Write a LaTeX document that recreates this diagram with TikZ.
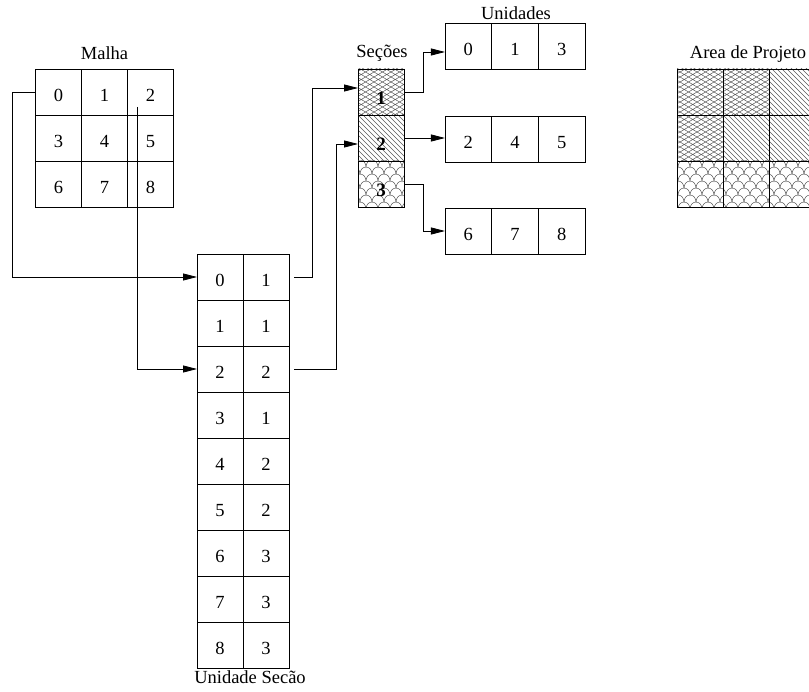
\documentclass[tikz,border=0pt]{standalone}
\usepackage{fontspec}
\setmainfont{Liberation Serif}
\usepackage{tikz}
\usetikzlibrary{
  arrows.meta,
  calc,
  patterns
}
% diamond mesh fill
\pgfdeclarepatternformonly{mesh}{\pgfqpoint{-0.5pt}{-0.5pt}}{\pgfqpoint{9pt}{5.5pt}}{\pgfqpoint{8.5pt}{5pt}}{%
  \pgfsetlinewidth{0.5pt}%
  \pgfpathmoveto{\pgfqpoint{0pt}{0pt}}\pgfpathlineto{\pgfqpoint{8.5pt}{5pt}}%
  \pgfpathmoveto{\pgfqpoint{0pt}{5pt}}\pgfpathlineto{\pgfqpoint{8.5pt}{0pt}}%
  \pgfusepath{stroke}}
% hatch fill
\pgfdeclarepatternformonly{hatch}{\pgfqpoint{-0.5pt}{-0.5pt}}{\pgfqpoint{5.5pt}{5.5pt}}{\pgfqpoint{5pt}{5pt}}{%
  \pgfsetlinewidth{0.5pt}%
  \pgfpathmoveto{\pgfqpoint{0pt}{5pt}}\pgfpathlineto{\pgfqpoint{5pt}{0pt}}%
  \pgfusepath{stroke}}
% fish scales fill
\pgfdeclarepatternformonly{scales}{\pgfqpoint{-0.5pt}{-0.5pt}}{\pgfqpoint{12.5pt}{14.5pt}}{\pgfqpoint{12pt}{14pt}}{%
  \pgfsetlinewidth{0.5pt}%
  \pgfpathmoveto{\pgfqpoint{0pt}{0pt}}%
  \pgfpathcurveto{\pgfqpoint{0pt}{3.86pt}}{\pgfqpoint{2.69pt}{7pt}}{\pgfqpoint{6pt}{7pt}}%
  \pgfpathcurveto{\pgfqpoint{9.31pt}{7pt}}{\pgfqpoint{12pt}{3.86pt}}{\pgfqpoint{12pt}{0pt}}%
  \pgfpathmoveto{\pgfqpoint{-6pt}{7pt}}%
  \pgfpathcurveto{\pgfqpoint{-6pt}{10.86pt}}{\pgfqpoint{-3.31pt}{14pt}}{\pgfqpoint{0pt}{14pt}}%
  \pgfpathcurveto{\pgfqpoint{3.31pt}{14pt}}{\pgfqpoint{6pt}{10.86pt}}{\pgfqpoint{6pt}{7pt}}%
  \pgfpathcurveto{\pgfqpoint{6pt}{10.86pt}}{\pgfqpoint{8.69pt}{14pt}}{\pgfqpoint{12pt}{14pt}}%
  \pgfpathcurveto{\pgfqpoint{15.31pt}{14pt}}{\pgfqpoint{18pt}{10.86pt}}{\pgfqpoint{18pt}{7pt}}%
  \pgfusepath{stroke}}
\tikzset{
  cell/.style = {
    draw, line width=0.8pt,
    minimum width=46pt, minimum height=46pt,
    inner sep=0pt, outer sep=0pt, text height=19.5pt,
    font=\fontsize{18.5}{22}\selectfont
  },
  ucell/.style = {cell, minimum width=46.67pt},
  seccell/.style = {cell, text height=26pt,
    font=\fontsize{19}{22}\selectfont\bfseries},
  fillpat/.style = {pattern=#1, pattern color=black!65},
  ttl/.style = {anchor=base, font=\fontsize{18.5}{22}\selectfont},
  arr/.style = {-{Triangle[length=14pt,width=7pt]}, line width=0.8pt},
}

\begin{document}
\begin{tikzpicture}[x=1pt, y=-1pt]
  \useasboundingbox (0,0) rectangle (809,692);

  %% Malha
  \foreach \n in {0,...,8}{
    \pgfmathtruncatemacro\c{mod(\n,3)}
    \pgfmathtruncatemacro\r{div(\n,3)}
    \node[cell] (m\n) at (58.5+46*\c, 92+46*\r) {\n};
  }
  \node[ttl] (malha) at (104.5,60) {Malha};

  %% Unidade / Secao table
  \foreach \u/\s [count=\k from 0] in {0/1,1/1,2/2,3/1,4/2,5/2,6/3,7/3,8/3}{
    \node[cell] (u\u0) at (220, 277+46*\k) {\u};
    \node[cell] (u\u1) at (266, 277+46*\k) {\s};
  }
  \node[ttl] (usec) at (250,683) {Unidade Secão};

  %% Secoes
  \node[seccell, fillpat=mesh]   (s1) at (381,92)  {1};
  \node[seccell, fillpat=hatch]  (s2) at (381,138) {2};
  \node[seccell, fillpat=scales] (s3) at (381,184) {3};
  \node[ttl] (secoes) at (382,58) {Seções};

  %% Unidades
  \foreach \y/\a/\b/\c [count=\k from 1] in {46/0/1/3, 139/2/4/5, 231/6/7/8}{
    \node[ucell] (b\k0) at (468.3,\y) {\a};
    \node[ucell] (b\k1) at (515,\y)   {\b};
    \node[ucell] (b\k2) at (561.7,\y) {\c};
  }
  \node[ttl] (unid) at (516,20) {Unidades};

  %% Area de Projeto
  \foreach \p [count=\k from 0] in {mesh,mesh,hatch,mesh,hatch,hatch,scales,scales,scales}{
    \pgfmathtruncatemacro\c{mod(\k,3)}
    \pgfmathtruncatemacro\r{div(\k,3)}
    \node[cell, fillpat=\p] (a\k) at (700+46*\c, 92+46*\r) {};
  }
  \node[ttl] (area) at (748,59) {Area de Projeto};

  %% Malha -> table
  \coordinate (m2in) at (137,107);
  \draw[arr] (m0.west) -- ++(-23,0) |- (u00.west);
  \draw[arr] (m2in) |- (u20.west);

  %% table -> Secoes
  \draw[arr] ($(u01.east)+(5,0)$) -- ++(18,0) |- ($(s1.west)+(0,-4)$);
  \draw[arr] ($(u21.east)+(5,0)$) -- ++(42,0) |- ($(s2.west)+(0,6)$);

  %% Secoes -> Unidades
  \draw[arr] (s1.east) -- ++(19,0) |- ($(b10.west)+(0,6)$);
  \draw[arr] (s2.east) -- (s2.east -| b20.west);
  \draw[arr] (s3.east) -- ++(19,0) |- (b30.west);

\end{tikzpicture}
\end{document}
